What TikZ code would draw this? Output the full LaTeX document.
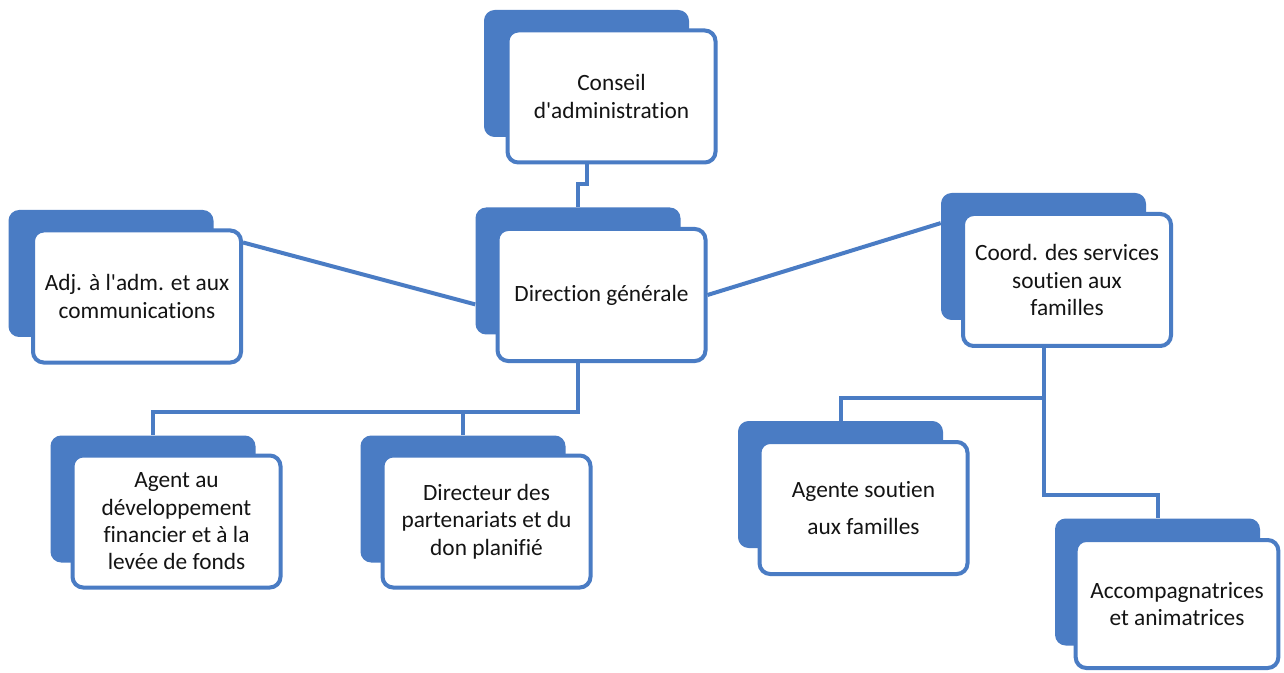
\documentclass[tikz,border=0pt]{standalone}
\usepackage{fontspec}
\newfontfamily\boxfont[Ligatures={NoCommon}]{Carlito}
\pgfdeclarelayer{bg}
\pgfsetlayers{bg,main}
\definecolor{ob}{RGB}{74,124,196}
\definecolor{txt}{RGB}{20,20,20}
\tikzset{
  front/.style={draw=ob, line width=3pt, fill=white, rounded corners=8pt,
    minimum width=156pt, minimum height=99pt, inner sep=0pt, align=center,
    text=txt, font=\boxfont\fontsize{17.5}{20.5}\selectfont},
  back/.style={fill=ob, rounded corners=8pt, minimum width=153.75pt,
    minimum height=95.25pt, inner sep=0pt},
  link/.style={draw=ob, line width=3pt}
}
\begin{document}
\begin{tikzpicture}[x=0.75pt, y=-0.75pt]
\useasboundingbox (0,0) rectangle (1284,673);
% shadows
\node[back] (conseil-s) at (586.5,73.5) {};
\node[back] (dir-s) at (578,271) {};
\node[back] (adj-s) at (111,273.5) {};
\node[back] (coord-s) at (1043.5,256.5) {};
\node[back] (agent-s) at (153,499) {};
\node[back] (dirr-s) at (463,499) {};
\node[back] (agente-s) at (840.5,484.5) {};
\node[back] (acc-s) at (1157.5,582) {};
% front boxes
\node[front] (conseil) at (611.5,96.5) {Conseil\\d'administration};
\node[front] (dir) at (601.5,295) {Direction générale};
\node[front] (adj) at (137,296.5) {Adj. à l'adm. et aux\\communications};
\node[front] (coord) at (1067,280) {Coord. des services\\soutien aux\\familles};
\node[front] (agent) at (176.5,521.5) {Agent au\\développement\\financier et à la\\levée de fonds};
\node[front] (dirr) at (486.5,521.5) {Directeur des\\partenariats et du\\don planifié};
\node[front] (agente) at (863.5,508) {Agente soutien\\[7.5pt]aux familles};
\node[front, minimum width=152pt, minimum height=96pt] (acc) at (1177,604) {Accompagnatrices\\et animatrices};
% helper coordinates
\coordinate (yA) at (0,184);
\coordinate (yB) at (0,412);
\coordinate (yC) at (0,398);
\coordinate (yD) at (0,495);
\begin{pgfonlayer}{bg}
\fill[white] (0,0) rectangle (1284,673);
\draw[link] (conseil-s.center |- conseil.south) -- (conseil-s.center |- yA) -| (dir-s.north);
\draw[link] (adj.27) -- (dir-s.198);
\draw[link] (dir.east) -- (coord-s.162);
\draw[link] (dir-s.center |- dir.south) |- (agent-s.north |- yB) -- (agent-s.north);
\draw[link] (dirr-s.north) -- (dirr-s.north |- yB);
\draw[link] (coord-s.center |- coord.south) |- (acc-s.north |- yD) -- (acc-s.north);
\draw[link] (agente-s.north) |- (coord-s.center |- yC);
\end{pgfonlayer}
\end{tikzpicture}
\end{document}
